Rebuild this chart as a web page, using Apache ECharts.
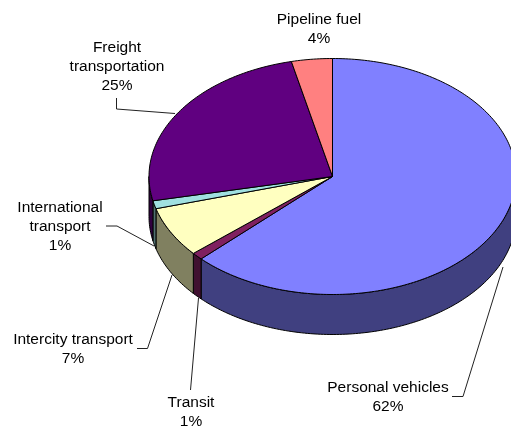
<!DOCTYPE html>
<html>
<head>
<meta charset="utf-8">
<style>
  html, body { margin: 0; padding: 0; background: #fff; }
  #chart { width: 511px; height: 427px; }
</style>
<script src="https://cdn.jsdelivr.net/npm/echarts@6/dist/echarts.min.js"></script>
</head>
<body>
<div id="chart"></div>
<script>
// clockwise from 12 o'clock
const categories = ['Personal vehicles', 'Transit', 'Intercity transport', 'International transport', 'Freight transportation', 'Pipeline fuel'];
// slice sizes, the printed percentages are rounded differently
const shares = [62.7, 1.0, 6.9, 1.1, 24.7, 3.6];
const percents = [62, 1, 7, 1, 25, 4];

// label text wraps differently from the category names
const labelNames = ['Personal vehicles', 'Transit', 'Intercity transport', 'International\ntransport', 'Freight\ntransportation', 'Pipeline fuel'];

const topColors = ['#8080ff', '#802060', '#ffffc0', '#a0e0e0', '#600080', '#ff8080'];
const sideColors = ['#404080', '#401030', '#808060', '#507070', '#300040', '#804040'];

// the pie is 3D, echarts core has none, so slices are squashed by hand
const cx = 332.5, cy = 176.5, rx = 183.5, ry = 118, depth = 40;
const total = shares.reduce((a, b) => a + b, 0);

const labelCenters = [[388, 397.5], [191, 412.5], [73, 349.5], [60, 227], [117, 67], [319, 29.5]];
const leaders = [
  [[452, 396.5], [463, 396.5], [503, 267]],
  [[190.5, 390], [198.5, 298]],
  [[137, 348.5], [147.5, 348.5], [172, 275]],
  [[106, 226], [117, 226], [154, 246]],
  [[116.5, 98], [116.5, 109], [175, 113.5]],
  null
];

function arc(from, to, dy) {
  const pts = [];
  const steps = Math.max(2, Math.ceil(to - from));
  for (let i = 0; i <= steps; i++) {
    const t = (from + (to - from) * i / steps) * Math.PI / 180;
    pts.push([cx + rx * Math.sin(t), cy - ry * Math.cos(t) + dy]);
  }
  return pts;
}

function renderSlice(params, api) {
  const i = params.dataIndex;
  let start = 0;
  for (let k = 0; k < i; k++) start += shares[k];
  const a = start / total * 360;
  const b = (start + api.value(0)) / total * 360;
  const children = [];

  // only the front half of the rim shows
  const wa = Math.max(a, 90), wb = Math.min(b, 270);
  if (wb > wa) {
    children.push({
      type: 'polygon',
      shape: { points: arc(wa, wb, 0).concat(arc(wa, wb, depth).reverse()) },
      style: { fill: sideColors[i], stroke: '#000', lineWidth: 1, lineJoin: 'round' }
    });
  }
  children.push({
    type: 'polygon',
    shape: { points: [[cx, cy]].concat(arc(a, b, 0)) },
    style: { fill: topColors[i], stroke: '#000', lineWidth: 1, lineJoin: 'round' }
  });
  if (leaders[i]) {
    children.push({
      type: 'polyline',
      shape: { points: leaders[i] },
      style: { fill: null, stroke: '#222', lineWidth: 1 }
    });
  }
  children.push({
    type: 'text',
    style: {
      text: labelNames[i] + '\n' + percents[i] + '%',
      x: labelCenters[i][0],
      y: labelCenters[i][1],
      align: 'center',
      verticalAlign: 'middle',
      font: '15.5px "Liberation Sans", Arial, sans-serif',
      lineHeight: 19,
      fill: '#000'
    }
  });
  return { type: 'group', children };
}

const chart = echarts.init(document.getElementById('chart'), null, { renderer: 'canvas' });
chart.setOption({
  animation: false,
  backgroundColor: '#fff',
  series: [{
    type: 'custom',
    coordinateSystem: 'none',
    silent: true,
    renderItem: renderSlice,
    data: shares.map((v, i) => ({ name: categories[i], value: [v] }))
  }]
});
</script>
</body>
</html>
